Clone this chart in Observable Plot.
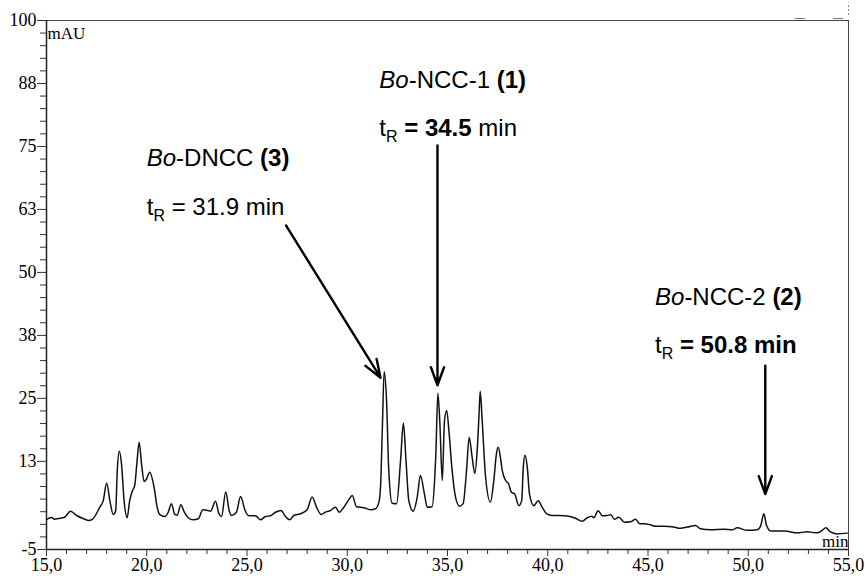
<!DOCTYPE html>
<html><head><meta charset="utf-8">
<script src="https://cdn.jsdelivr.net/npm/d3@7"></script>
<script src="https://cdn.jsdelivr.net/npm/@observablehq/plot@0.6"></script>
<style>body{margin:0;background:#fff} svg{display:block}</style>
</head><body><div id="chart"></div>
<script>
// Chromatogram trace (retention time in min, absorbance in mAU)
const time = [15.0,15.25,15.4,15.6,15.9,16.2,16.5,16.83,17.13,17.33,17.66,17.83,18.0,18.16,18.33,18.45,18.53,18.63,18.74,18.87,19.02,19.15,19.29,19.4,19.52,19.62,19.74,19.87,19.99,20.15,20.35,20.52,20.65,20.9,21.07,21.23,21.4,21.52,21.7,21.85,22.07,22.32,22.57,22.8,23.0,23.18,23.43,23.6,23.73,23.94,24.11,24.23,24.47,24.68,24.9,25.06,25.3,25.45,25.67,25.92,26.17,26.42,26.7,26.9,27.13,27.33,27.67,28.0,28.25,28.47,28.7,28.9,29.16,29.41,29.6,29.83,30.08,30.25,30.46,30.83,31.16,31.41,31.58,31.66,31.75,31.84,31.96,32.07,32.24,32.46,32.66,32.8,32.93,33.07,33.29,33.49,33.65,33.85,33.99,34.23,34.37,34.42,34.52,34.62,34.74,34.85,34.96,35.07,35.23,35.4,35.6,35.78,35.95,36.08,36.23,36.36,36.48,36.57,36.63,36.73,36.9,37.14,37.31,37.44,37.53,37.65,37.73,37.9,38.05,38.18,38.35,38.56,38.7,38.78,38.86,38.98,39.09,39.31,39.52,39.72,39.94,40.22,40.6,40.97,41.38,41.72,41.97,42.2,42.3,42.51,42.72,42.96,43.15,43.32,43.54,43.83,44.13,44.38,44.59,44.79,45.12,45.37,45.79,46.29,46.62,46.96,47.37,47.62,48.12,48.78,49.2,49.45,49.95,50.45,50.62,50.78,50.91,51.13,51.82,52.44,52.94,53.44,53.69,53.87,54.07,54.43,54.93];
const absorbance = [0.95,1.35,1.0,1.15,1.4,2.6,1.75,1.15,0.75,1.15,3.4,4.7,8.2,4.7,1.95,2.7,10.7,14.5,12.0,4.7,1.3,4.7,6.7,7.7,12.7,16.3,12.0,8.5,9.0,10.35,7.7,3.4,1.9,1.55,2.4,4.1,1.95,1.8,3.9,2.6,1.3,0.9,1.1,2.9,2.8,2.6,4.6,2.1,1.55,6.4,2.75,1.75,2.4,5.5,2.8,1.75,1.7,1.65,0.9,1.55,1.7,2.4,2.75,1.65,0.9,1.75,2.1,2.9,5.4,3.4,1.95,2.4,2.75,3.4,2.4,3.4,4.9,5.7,3.5,3.3,2.9,3.1,4.4,7.4,19.0,30.3,24.6,10.7,4.2,4.1,12.7,20.1,12.7,4.7,2.6,5.4,9.7,6.0,3.4,3.5,9.7,14.0,26.0,20.0,8.7,20.6,22.6,18.6,10.7,5.4,3.6,4.1,10.7,17.3,13.3,10.1,14.6,21.6,26.4,20.6,9.35,4.4,8.7,14.0,15.3,13.0,10.7,8.7,8.0,6.4,6.0,3.7,4.7,11.3,13.7,11.3,6.0,3.7,4.7,3.4,2.1,1.75,1.75,1.65,1.2,0.6,1.3,1.6,1.3,2.7,1.7,1.75,1.9,1.0,1.4,0.4,0.5,1.0,0.1,0.1,-0.1,-0.4,-0.4,-0.55,-0.8,-0.55,-0.25,-0.9,-1.1,-1.0,-1.1,-0.7,-1.2,-1.1,-0.3,2.1,-0.2,-1.35,-1.35,-1.7,-1.5,-1.7,-1.2,-0.7,-1.4,-1.9,-1.75];

// Axis ticks
const xTickValues = [15,20,25,30,35,40,45,50,55];
const xTickLabels = ["15,0","20,0","25,0","30,0","35,0","40,0","45,0","50,0","55,0"];
const yTickValues = [100,87.5,75,62.5,50,37.5,25,12.5,-5];
const yTickLabels = ["100","88","75","63","50","38","25","13","-5"];

// Annotations
const compoundNames = ["Bo-DNCC (3)","Bo-NCC-1 (1)","Bo-NCC-2 (2)"];
const retentionTimes = [31.9, 34.5, 50.8];
const labelTime = [20.0, 31.6, 45.35];      // left edge of label (min)
const nameLevel = [72.6, 88.1, 45.0];       // name line (mAU)
const trLevel = [63.0, 78.6, 35.6];         // tR line (mAU)
const arrowFromTime = [26.95, 34.5, 50.85];
const arrowFromLevel = [59.3, 75.2, 31.5];
const arrowToTime = [31.66, 34.5, 50.85];
const arrowToLevel = [29.1, 27.6, 6.0];

const xMinor = d3.range(15, 55.01, 1).filter(d => !xTickValues.includes(d));
const yMinor = d3.range(-2.5, 100, 2.5).filter(d => !yTickValues.includes(d));

const trace = time.map((t, i) => ({t, v: absorbance[i]}));
const ann = compoundNames.map((name, i) => ({
  name, tr: `tR = ${retentionTimes[i].toFixed(1)} min`,
  lx: labelTime[i], ny: nameLevel[i], ty: trLevel[i]
}));
const arrows = arrowFromTime.map((d, i) => ({x1: d, y1: arrowFromLevel[i], x2: arrowToTime[i], y2: arrowToLevel[i]}));

const serif = "'Liberation Serif','Times New Roman',serif";
const sans = "'Liberation Sans',Arial,Helvetica,sans-serif";

const chart = Plot.plot({
  width: 865, height: 577,
  marginLeft: 46, marginRight: 17, marginTop: 20, marginBottom: 28,
  x: {domain: [15, 55], label: null},
  y: {domain: [-5, 100], label: null},
  style: {fontFamily: serif, fontSize: "18px", color: "#000", background: "#fff", overflow: "visible"},
  marks: [
    Plot.axisX({ticks: xMinor, tickSize: 5, tickFormat: () => "", stroke: "#333", label: null}),
    Plot.axisX({ticks: xTickValues, tickSize: 7, tickPadding: 2, stroke: "#333", label: null,
      tickFormat: d => xTickLabels[xTickValues.indexOf(d)], fontSize: 18, fontFamily: serif}),
    Plot.axisY({ticks: yMinor, tickSize: 6, tickFormat: () => "", stroke: "#333", label: null}),
    Plot.axisY({ticks: yTickValues, tickSize: 9, tickPadding: 1, stroke: "#333", label: null,
      tickFormat: d => yTickLabels[yTickValues.indexOf(d)], fontSize: 18, fontFamily: serif}),
    Plot.frame({stroke: "#444", strokeWidth: 1}),
    Plot.ruleX([15], {stroke: "#222", strokeWidth: 1.5}),
    Plot.ruleY([-5], {stroke: "#222", strokeWidth: 1.5}),
    // small marks above the top-right corner of the frame
    Plot.ruleY([100.4, 100.4], {x1: [52.35, 54.25], x2: [52.85, 54.75], stroke: "#777", strokeWidth: 1}),
    Plot.ruleX([55], {y1: 101.0, y2: 103.5, stroke: "#888", strokeWidth: 1, strokeDasharray: "2,2"}),
    Plot.line(trace, {x: "t", y: "v", stroke: "#111", strokeWidth: 1.5, curve: "monotone-x"}),
    Plot.text(["mAU"], {frameAnchor: "top-left", textAnchor: "start", lineAnchor: "top", dx: 1, dy: 6, fontSize: 17, fontFamily: serif}),
    Plot.text(["min"], {frameAnchor: "bottom-right", textAnchor: "end", lineAnchor: "bottom", dx: 0, dy: -3, fontSize: 17, fontFamily: serif}),
    Plot.arrow(arrows, {x1: "x1", y1: "y1", x2: "x2", y2: "y2", stroke: "#000", strokeWidth: 2.4, headLength: 12, headAngle: 40}),
    Plot.text(ann, {x: "lx", y: "ny", text: "name", textAnchor: "start", fontSize: 24, fontFamily: sans, fill: "#000"}),
    Plot.text(ann, {x: "lx", y: "ty", text: "tr", textAnchor: "start", fontSize: 24, fontFamily: sans, fill: "#000"})
  ]
});

// Rich formatting: italic "Bo", bold compound number, subscript R
const trBoldMode = ["none", "number", "all"];
chart.querySelectorAll("text").forEach(el => {
  const s = el.textContent;
  const ni = compoundNames.indexOf(s);
  const NS = "http://www.w3.org/2000/svg";
  const add = (txt, attrs = {}) => {
    const ts = document.createElementNS(NS, "tspan");
    ts.textContent = txt;
    for (const k in attrs) ts.setAttribute(k, attrs[k]);
    el.appendChild(ts);
  };
  if (ni >= 0) {
    const m = s.match(/^(Bo)(-.*? )(\(\d\))$/);
    el.textContent = "";
    add(m[1], {"font-style": "italic"});
    add(m[2]);
    add(m[3], {"font-weight": "bold"});
    return;
  }
  const ti = ann.findIndex(a => a.tr === s);
  if (ti >= 0) {
    const val = retentionTimes[ti].toFixed(1);
    el.textContent = "";
    add("t");
    add("R", {"font-size": "16px", dy: "6"});
    const mode = trBoldMode[ti];
    if (mode === "none") add(` = ${val} min`, {dy: "-6"});
    else if (mode === "number") { add(" ", {dy: "-6"}); add(`= ${val}`, {"font-weight": "bold"}); add(" min"); }
    else { add(" ", {dy: "-6"}); add(`= ${val} min`, {"font-weight": "bold"}); }
  }
});

document.getElementById("chart").appendChild(chart);
</script>
</body></html>
